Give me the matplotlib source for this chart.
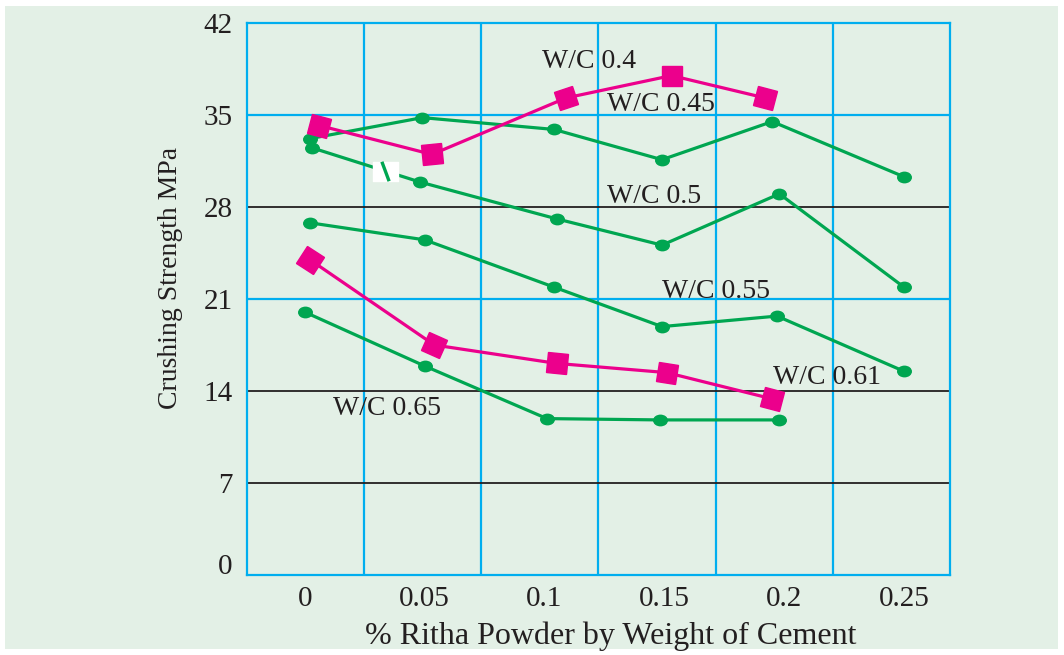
import numpy as np
import matplotlib
matplotlib.use("Agg")
import matplotlib.pyplot as plt
from matplotlib.markers import MarkerStyle
from matplotlib.transforms import Affine2D, ScaledTranslation
from matplotlib.patches import Rectangle
from matplotlib.path import Path

# ---------------- data ----------------
x_ticks = [0, 0.05, 0.1, 0.15, 0.2, 0.25]
x_tick_labels = ["0", "0.05", "0.1", "0.15", "0.2", "0.25"]
y_ticks = [0, 7, 14, 21, 28, 35, 42]
y_tick_labels = ["0", "7", "14", "21", "28", "35", "42"]

x_wc040 = [0.006, 0.053, 0.109, 0.153, 0.192]
y_wc040 = [34.2, 32.0, 36.3, 38.0, 36.3]
x_wc045 = [0.002, 0.049, 0.104, 0.149, 0.195, 0.250]
y_wc045 = [33.2, 34.8, 33.9, 31.6, 34.5, 30.3]
x_wc050 = [0.003, 0.048, 0.105, 0.149, 0.198, 0.250]
y_wc050 = [32.5, 29.9, 27.1, 25.1, 29.0, 21.9]
x_wc055 = [0.002, 0.050, 0.104, 0.149, 0.197, 0.250]
y_wc055 = [26.8, 25.5, 21.9, 18.9, 19.7, 15.5]
x_wc061 = [0.002, 0.054, 0.105, 0.151, 0.195]
y_wc061 = [24.0, 17.5, 16.1, 15.4, 13.4]
x_wc065 = [0.000, 0.050, 0.101, 0.148, 0.198]
y_wc065 = [20.0, 15.9, 11.9, 11.8, 11.8]

series_labels = ["W/C 0.4", "W/C 0.45", "W/C 0.5", "W/C 0.55", "W/C 0.61", "W/C 0.65"]

# ---------------- style ----------------
BG = "#e3f0e6"
GREEN = "#00a651"
MAGENTA = "#ec008c"
BLUE = "#00aeef"
INK = "#231f20"
FONT = "Liberation Serif"

fig = plt.figure(figsize=(10.64, 6.55), dpi=100)
fig.patch.set_facecolor("white")
fig.patches.append(Rectangle((5 / 1064, 6 / 655), 1053 / 1064, 643 / 655,
                             transform=fig.transFigure, facecolor=BG,
                             edgecolor="none", zorder=-10))

ax = fig.add_axes([246.7 / 1064, 80 / 655, 703.3 / 1064, 552 / 655])
ax.set_facecolor(BG)
xlim = (-0.0243, 0.2692)
ax.set_xlim(*xlim)
ax.set_ylim(0, 42)

for s in ax.spines.values():
    s.set_color(BLUE)
    s.set_linewidth(1.6)

# grid lines
for xv in np.linspace(xlim[0], xlim[1], 7)[1:-1]:
    ax.axvline(xv, color=BLUE, lw=1.6, zorder=1)
for yv in (35, 21):
    ax.axhline(yv, color=BLUE, lw=1.6, zorder=1)
for yv in (28, 14, 7):
    ax.axhline(yv, color=INK, lw=1.3, zorder=1)

ax.set_xticks(x_ticks)
ax.set_xticklabels(x_tick_labels, fontsize=21, family=FONT, color=INK)
ax.set_yticks(y_ticks)
ax.set_yticklabels(y_tick_labels, fontsize=21, family=FONT, color=INK)
ax.tick_params(axis="both", length=0)
ax.tick_params(axis="x", pad=8)
ax.tick_params(axis="y", pad=10)
# the "0" label sits a little higher in the reference
lbl0 = ax.get_yticklabels()[0]
lbl0.set_transform(lbl0.get_transform() + ScaledTranslation(0, 11 / 100, fig.dpi_scale_trans))

ax.set_xlabel("% Ritha Powder by Weight of Cement", fontsize=23, family=FONT,
              color=INK)
ax.xaxis.label.set_va("center")
ax.xaxis.set_label_coords(0.518, -0.111)
ax.set_ylabel("Crushing Strength MPa", fontsize=20, family=FONT, color=INK)
ax.yaxis.label.set_va("center")
ax.yaxis.set_label_coords(-0.108, 0.538)

ellipse = MarkerStyle("o", transform=Affine2D().scale(1.3, 1.0))


def green_series(x, y):
    ax.plot(x, y, color=GREEN, lw=2.3, marker=ellipse, markersize=7.5,
            markerfacecolor=GREEN, markeredgecolor=GREEN, zorder=3,
            solid_joinstyle="round")


def magenta_series(x, y):
    ax.plot(x, y, color=MAGENTA, lw=2.3, zorder=4)
    pts = ax.transData.transform(np.column_stack([x, y]))
    n = len(pts)
    for i in range(n):
        a = pts[max(i - 1, 0)]
        b = pts[min(i + 1, n - 1)]
        ang = np.degrees(np.arctan2(b[1] - a[1], b[0] - a[0]))
        m = MarkerStyle("s", transform=Affine2D().rotate_deg(ang))
        ax.plot([x[i]], [y[i]], linestyle="none", marker=m, markersize=14,
                markerfacecolor=MAGENTA, markeredgecolor=MAGENTA, zorder=5)


green_series(x_wc045, y_wc045)
green_series(x_wc050, y_wc050)
green_series(x_wc055, y_wc055)
green_series(x_wc065, y_wc065)
magenta_series(x_wc040, y_wc040)
magenta_series(x_wc061, y_wc061)

# small break mark on the W/C 0.5 line
f = 0.68
bx = x_wc050[0] + f * (x_wc050[1] - x_wc050[0])
by = y_wc050[0] + f * (y_wc050[1] - y_wc050[0])
rect_path = Path([(-12.5, -9.5), (12.5, -9.5), (12.5, 9.5), (-12.5, 9.5), (-12.5, -9.5)],
                 [Path.MOVETO, Path.LINETO, Path.LINETO, Path.LINETO, Path.CLOSEPOLY])
ax.plot([bx], [by], linestyle="none", marker=MarkerStyle(rect_path), markersize=18,
        markerfacecolor="white", markeredgecolor="white", zorder=6)
slash_path = Path([(-3.6, 9.7), (3.6, -9.7)], [Path.MOVETO, Path.LINETO])
ax.plot([bx], [by], linestyle="none", marker=MarkerStyle(slash_path, fillstyle="none"),
        markersize=14, markeredgecolor=GREEN, markeredgewidth=2.4, zorder=7)

# series labels
label_pos = [(0.0988, 38.55), (0.1259, 35.33), (0.1259, 28.28),
             (0.1489, 21.05), (0.1952, 14.51), (0.0118, 12.17)]
for (lx, ly), txt in zip(label_pos, series_labels):
    ax.text(lx, ly, txt, fontsize=20, family=FONT, color=INK,
            ha="left", va="baseline", zorder=8)

fig.savefig("out.png", dpi=100, facecolor=fig.get_facecolor())
